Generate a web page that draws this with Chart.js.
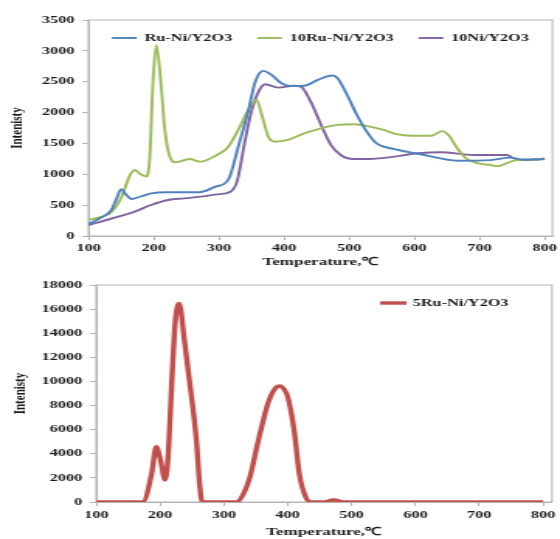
<!DOCTYPE html>
<html>
<head>
<meta charset="utf-8">
<script src="https://cdn.jsdelivr.net/npm/chart.js@4.4.1/dist/chart.umd.min.js"></script>
<style>
  html, body { margin: 0; padding: 0; background: #fff; }
  body { width: 560px; height: 539px; position: relative; overflow: hidden; }
  /* the original figure is stretched sideways, so the canvases are too */
  canvas { position: absolute; left: 0; transform: scaleX(1.5512); transform-origin: 0 0; }
  #topChart { top: 0; }
  #bottomChart { top: 265px; }
</style>
</head>
<body>
<canvas id="topChart" width="361" height="270"></canvas>
<canvas id="bottomChart" width="361" height="274"></canvas>
<script>
/* ===== DATA ===== */
const seriesNames = ["Ru-Ni/Y2O3", "10Ru-Ni/Y2O3", "10Ni/Y2O3", "5Ru-Ni/Y2O3"];

const ruNiTemp = [100, 118, 135, 143, 150, 157, 166, 180, 196, 220, 250, 270, 295, 315, 330, 345, 356, 368, 381, 396, 411, 431, 452, 474, 482, 497, 512, 527, 542, 568, 615, 666, 717, 747, 767, 800];
const ruNiInt = [190, 290, 420, 600, 760, 680, 600, 640, 690, 710, 710, 710, 800, 920, 1450, 2015, 2500, 2675, 2610, 2475, 2430, 2435, 2530, 2600, 2560, 2285, 1960, 1690, 1500, 1410, 1313, 1220, 1230, 1270, 1240, 1245];

const ru10Temp = [100, 121, 136, 151, 164, 171, 180, 189, 194, 199, 204, 211, 217, 224, 234, 255, 272, 297, 313, 330, 345, 358, 366, 376, 386, 406, 431, 457, 482, 507, 532, 553, 573, 595, 626, 643, 653, 666, 679, 697, 717, 727, 742, 757, 787, 800];
const ru10Int = [260, 313, 395, 637, 990, 1070, 1000, 965, 1260, 2500, 3095, 2500, 1745, 1313, 1195, 1248, 1205, 1313, 1425, 1720, 2040, 2210, 1960, 1610, 1528, 1556, 1664, 1745, 1800, 1810, 1772, 1718, 1650, 1625, 1625, 1700, 1630, 1420, 1260, 1180, 1150, 1130, 1180, 1230, 1240, 1260];

const ni10Temp = [100, 146, 171, 196, 222, 247, 272, 297, 318, 328, 340, 350, 361, 371, 391, 416, 426, 441, 457, 472, 487, 507, 532, 558, 606, 641, 691, 742, 752, 767, 800];
const ni10Int = [178, 313, 395, 502, 583, 610, 637, 675, 718, 880, 1528, 2015, 2340, 2460, 2405, 2435, 2420, 2177, 1800, 1475, 1313, 1248, 1248, 1270, 1340, 1356, 1313, 1313, 1260, 1230, 1245];

const ru5Temp = [100, 173, 187, 194, 201, 208, 213, 218, 224, 230, 238, 246, 257, 262, 266, 320, 330, 341, 353, 369, 380, 387, 395, 400, 410, 418, 428, 436, 455, 472, 490, 800];
const ru5Int = [0, 0, 2380, 4585, 3400, 1825, 4000, 9500, 15000, 16475, 13500, 10115, 5140, 1500, 0, 0, 600, 2100, 4870, 8185, 9400, 9620, 9300, 8730, 5970, 2380, 440, 0, 0, 170, 0, 0];

const topTicks = { min: 0, max: 3500, step: 500 };
const bottomTicks = { min: 0, max: 18000, step: 2000 };

function pts(ts, vs) {
  return ts.map((t, i) => ({ x: t, y: vs[i] }));
}

/* ===== STYLE ===== */
const FONT = "'Times New Roman', 'Liberation Serif', serif";
const AXIS = "#b4b4b4";
const INK = "#1a1a1a";

// plot border + in-plot legend
const plotDeco = {
  id: "plotDeco",
  beforeDatasetsDraw(chart) {
    const a = chart.chartArea, ctx = chart.ctx;
    ctx.save();
    ctx.strokeStyle = AXIS;
    ctx.lineWidth = 1;
    ctx.strokeRect(a.left, a.top, a.right - a.left, a.bottom - a.top);
    ctx.restore();
  },
  afterDraw(chart, args, opts) {
    const a = chart.chartArea, ctx = chart.ctx;
    ctx.save();
    ctx.font = "bold 10.5px " + FONT;
    const items = chart.data.datasets.map((ds) => ({ ds: ds, w: ctx.measureText(ds.label).width }));
    let total = 0;
    items.forEach((it, i) => {
      total += opts.lineLen + opts.gap + it.w + (i > 0 ? opts.spacing : 0);
    });
    let x = opts.align === "end"
      ? a.right - opts.offsetX - total
      : (a.left + a.right) / 2 - total / 2;
    const y = a.top + opts.offsetY;
    items.forEach((it) => {
      ctx.strokeStyle = it.ds.borderColor;
      ctx.lineWidth = it.ds.borderWidth;
      ctx.beginPath();
      ctx.moveTo(x, y);
      ctx.lineTo(x + opts.lineLen, y);
      ctx.stroke();
      x += opts.lineLen + opts.gap;
      ctx.fillStyle = INK;
      ctx.textBaseline = "middle";
      ctx.fillText(it.ds.label, x, y);
      x += it.w + opts.spacing;
    });
    ctx.restore();
  },
};

function makeOptions(cfg) {
  return {
    responsive: false,
    animation: false,
    layout: { padding: { top: cfg.padTop, right: 1, left: 0, bottom: 0 } },
    elements: { point: { radius: 0 }, line: { cubicInterpolationMode: "monotone" } },
    plugins: {
      legend: { display: false },
      tooltip: { enabled: false },
      plotDeco: cfg.legend,
    },
    scales: {
      x: {
        type: "linear",
        min: 100,
        max: cfg.xMax,
        afterFit: (s) => { s.height = cfg.xHeight; },
        afterBuildTicks: (s) => {
          s.ticks = s.ticks.filter((t) => t.value % 100 === 0 && t.value <= 800);
        },
        ticks: {
          stepSize: 100,
          includeBounds: false,
          padding: cfg.xTickPad,
          maxRotation: 0,
          color: INK,
          font: { family: FONT, size: 10.5, weight: "bold" },
          callback: (v) => String(v),
        },
        grid: { drawOnChartArea: false, tickLength: 4, color: AXIS },
        border: { color: AXIS },
        title: {
          display: true,
          text: "Temperature,℃",
          color: INK,
          padding: { top: 0, bottom: cfg.xTitlePad },
          font: { family: FONT, size: 11, weight: "bold" },
        },
      },
      y: {
        min: cfg.yTicks.min,
        max: cfg.yTicks.max,
        afterFit: (s) => { s.width = cfg.yWidth; },
        ticks: {
          stepSize: cfg.yTicks.step,
          padding: 5,
          color: INK,
          font: { family: FONT, size: 10.5, weight: "bold" },
          callback: (v) => String(v),
        },
        grid: { drawOnChartArea: false, tickLength: 4, color: AXIS },
        border: { color: AXIS },
        title: {
          display: true,
          text: "Intenisty",
          color: INK,
          padding: { top: cfg.yTitlePad, bottom: 0 },
          font: { family: FONT, size: 11, weight: "bold" },
        },
      },
    },
  };
}

/* ===== TOP CHART ===== */
new Chart(document.getElementById("topChart"), {
  type: "line",
  data: {
    datasets: [
      { label: seriesNames[0], data: pts(ruNiTemp, ruNiInt), borderColor: "#4F81BD", borderWidth: 1.9 },
      { label: seriesNames[1], data: pts(ru10Temp, ru10Int), borderColor: "#9BBB59", borderWidth: 1.9 },
      { label: seriesNames[2], data: pts(ni10Temp, ni10Int), borderColor: "#8064A2", borderWidth: 1.9 },
    ],
  },
  options: makeOptions({
    padTop: 20, xMax: 812, xHeight: 34, xTickPad: 2, xTitlePad: 1,
    yWidth: 57, yTitlePad: 5, yTicks: topTicks,
    legend: { align: "center", offsetX: 0, offsetY: 18, lineLen: 16, gap: 5, spacing: 16 },
  }),
  plugins: [plotDeco],
});

/* ===== BOTTOM CHART ===== */
new Chart(document.getElementById("bottomChart"), {
  type: "line",
  data: {
    datasets: [
      { label: seriesNames[3], data: pts(ru5Temp, ru5Int), borderColor: "#C0504D", borderWidth: 3.4 },
    ],
  },
  options: makeOptions({
    padTop: 20, xMax: 814, xHeight: 37, xTickPad: 3, xTitlePad: 0,
    yWidth: 62, yTitlePad: 7, yTicks: bottomTicks,
    legend: { align: "end", offsetX: 28, offsetY: 18, lineLen: 17, gap: 4, spacing: 16 },
  }),
  plugins: [plotDeco],
});
</script>
</body>
</html>
